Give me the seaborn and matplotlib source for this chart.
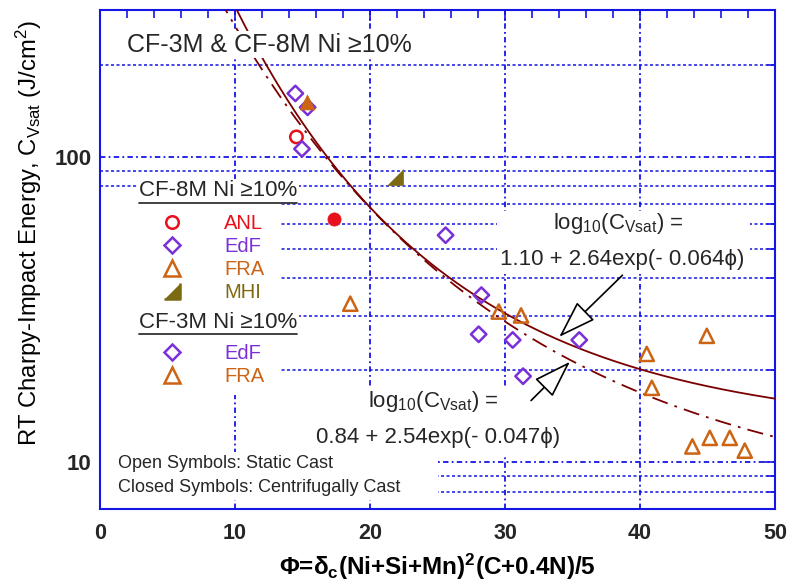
import numpy as np
import pandas as pd
import matplotlib
matplotlib.use("Agg")
import matplotlib.pyplot as plt
import seaborn as sns
from matplotlib.lines import Line2D
from matplotlib.patches import Rectangle
from matplotlib.ticker import FixedLocator, NullFormatter, MultipleLocator, FixedFormatter

sns.set_theme(style="white")
plt.rcParams["font.family"] = ["Liberation Sans", "DejaVu Sans"]
plt.rcParams["mathtext.fontset"] = "custom"
plt.rcParams["mathtext.rm"] = "Liberation Sans"
plt.rcParams["mathtext.it"] = "Liberation Sans:italic"
plt.rcParams["mathtext.bf"] = "Liberation Sans:bold"

# ---------------- data ----------------
anl_open_phi = [14.55]
anl_open_cv = [116]
anl_closed_phi = [17.33]
anl_closed_cv = [62.7]
edf8_phi = [14.47, 15.38, 14.96, 25.6]
edf8_cv = [161, 145, 106, 55.3]
edf3_phi = [28.25, 28.05, 30.57, 31.34, 35.5]
edf3_cv = [35.2, 26.2, 25.1, 19.1, 25.1]
fra8_open_phi = [18.54, 29.54, 31.19]
fra8_open_cv = [33.0, 31.1, 30.2]
fra8_closed_phi = [15.3]
fra8_closed_cv = [151]
fra3_phi = [40.5, 44.95, 40.88, 43.88, 45.17, 46.65, 47.76]
fra3_cv = [22.6, 25.9, 17.5, 11.25, 12.0, 12.0, 10.9]
mhi_phi = [21.87]
mhi_cv = [85.9]

# fitted curves: log10(Cvsat) = a + b*exp(-k*phi)
fit1_a, fit1_b, fit1_k = 1.10, 2.64, 0.064
fit2_a, fit2_b, fit2_k = 0.84, 2.54, 0.047

x_ticks = [0, 10, 20, 30, 40, 50]
y_major = [10, 100]
y_minor = [8, 9, 20, 30, 40, 50, 60, 70, 80, 90, 200]

RED = "#e8101a"
PURPLE = "#7a30d8"
ORANGE = "#cc6414"
OLIVE = "#7c6a12"
MAROON = "#7a0000"
BLUE = "#1515e6"

fig = plt.figure(figsize=(7.9, 5.83), dpi=100)
ax = fig.add_axes([100 / 790, 1 - 509 / 583, 675 / 790, 499 / 583])
ax.set_facecolor("white")

# curves
phi_grid = np.linspace(8, 50, 400)
c1 = 10 ** (fit1_a + fit1_b * np.exp(-fit1_k * phi_grid))
c2 = 10 ** (fit2_a + fit2_b * np.exp(-fit2_k * phi_grid))
sns.lineplot(x=phi_grid, y=c1, color=MAROON, lw=1.3, ax=ax, zorder=3)
sns.lineplot(x=phi_grid, y=c2, color=MAROON, lw=1.3, ax=ax, zorder=3,
             linestyle=(0, (9, 4, 1.5, 4)))

mhi_marker = [(-1, -1), (1, -1), (1, 1)]

def open_pts(x, y, marker, color, s):
    sns.scatterplot(x=x, y=y, marker=marker, s=s, facecolor="none",
                    edgecolor=color, linewidth=1.8, ax=ax, zorder=4)

def closed_pts(x, y, marker, color, s):
    sns.scatterplot(x=x, y=y, marker=marker, s=s, color=color,
                    edgecolor=color, linewidth=0.5, ax=ax, zorder=4)

open_pts(anl_open_phi, anl_open_cv, "o", RED, 80)
closed_pts(anl_closed_phi, anl_closed_cv, "o", RED, 90)
open_pts(edf8_phi, edf8_cv, "D", PURPLE, 62)
open_pts(edf3_phi, edf3_cv, "D", PURPLE, 62)
open_pts(fra8_open_phi, fra8_open_cv, "^", ORANGE, 105)
open_pts(fra3_phi, fra3_cv, "^", ORANGE, 105)
closed_pts(fra8_closed_phi, fra8_closed_cv, "^", ORANGE, 115)
closed_pts(mhi_phi, mhi_cv, mhi_marker, OLIVE, 130)

ax.set_yscale("log")
ax.set_xlim(0, 50)
ax.set_ylim(7.02, 302)

# ticks
ax.xaxis.set_major_locator(FixedLocator(x_ticks))
ax.xaxis.set_minor_locator(MultipleLocator(2))
ax.yaxis.set_major_locator(FixedLocator(y_major))
ax.yaxis.set_major_formatter(FixedFormatter([str(v) for v in y_major]))
ax.yaxis.set_minor_locator(FixedLocator(y_minor))
ax.yaxis.set_minor_formatter(NullFormatter())
ax.tick_params(axis="both", which="both", direction="in", color=BLUE,
               top=True, right=True, width=1.2)
ax.tick_params(axis="both", which="major", length=8)
ax.tick_params(axis="both", which="minor", length=6)
ax.tick_params(axis="x", which="major", labelsize=15.5, pad=10)
ax.tick_params(axis="y", which="major", labelsize=16, pad=6)
for lab in ax.get_xticklabels() + ax.get_yticklabels():
    lab.set_fontweight("bold")
for sp in ax.spines.values():
    sp.set_color(BLUE)
    sp.set_linewidth(1.5)

ax.set_axisbelow(True)
ax.grid(True, which="major", axis="both", color=BLUE, lw=1.3, linestyle=(0, (3, 1.8, 1, 1.8)))
ax.grid(True, which="minor", axis="y", color=BLUE, lw=1.1, linestyle=(0, (2, 1.6)))

# white blanking boxes behind texts / legend
def blank(x0, y0, x1, y1):
    # pixel coordinates of the figure (y from top)
    ax.add_patch(Rectangle(((x0 - 100) / 675, (509 - y1) / 499),
                           (x1 - x0) / 675, (y1 - y0) / 499,
                           transform=ax.transAxes, fc="white", ec="none",
                           zorder=1))

blank(100, 198, 280, 395)     # legend block
blank(100, 452, 438, 500)     # open/closed symbols note
blank(497, 211, 750, 274)     # equation 1
blank(316, 387, 568, 455)     # equation 2

# title
ax.text(0.04, 0.93, "CF-3M & CF-8M Ni ≥10%", transform=ax.transAxes,
        fontsize=18, ha="left", va="center", zorder=5,
        bbox=dict(fc="white", ec="none", pad=1))

# legend headers
h1 = ax.text((139 - 100) / 675, (509 - 191) / 499, "CF-8M Ni ≥10%",
             transform=ax.transAxes, fontsize=16, ha="left", va="center",
             zorder=5, bbox=dict(fc="white", ec="none", pad=1))
h2 = ax.text((139 - 100) / 675, (509 - 322.5) / 499, "CF-3M Ni ≥10%",
             transform=ax.transAxes, fontsize=16, ha="left", va="center",
             zorder=5, bbox=dict(fc="white", ec="none", pad=1))

def lh(marker, color, filled=False, ms=8):
    return Line2D([], [], ls="none", marker=marker, ms=ms,
                  mfc=color if filled else "none", mec=color, mew=1.8)

leg1_handles = [lh("o", RED, ms=9), lh("D", PURPLE, ms=8.5), lh("^", ORANGE, ms=11),
                lh(mhi_marker, OLIVE, True, ms=12)]
leg1_labels = ["ANL", "EdF", "FRA", "MHI"]
leg1_colors = [RED, PURPLE, ORANGE, OLIVE]
leg2_handles = [lh("D", PURPLE, ms=8.5), lh("^", ORANGE, ms=11)]
leg2_labels = ["EdF", "FRA"]
leg2_colors = [PURPLE, ORANGE]

leg_kw = dict(loc="upper left", frameon=False, fontsize=14.5, handlelength=2,
              handletextpad=1.62, borderpad=0, borderaxespad=0,
              labelspacing=0.2, bbox_transform=ax.transAxes)
leg1 = ax.legend(leg1_handles, leg1_labels,
                 bbox_to_anchor=((151.5 - 100) / 675, (509 - 214) / 499), **leg_kw)
for t, c in zip(leg1.get_texts(), leg1_colors):
    t.set_color(c)
leg1.set_zorder(6)
ax.add_artist(leg1)
leg2 = ax.legend(leg2_handles, leg2_labels,
                 bbox_to_anchor=((151.5 - 100) / 675, (509 - 344) / 499), **leg_kw)
for t, c in zip(leg2.get_texts(), leg2_colors):
    t.set_color(c)
leg2.set_zorder(6)

# equations
eq_kw = dict(transform=ax.transAxes, fontsize=16, ha="left", va="center", zorder=5)
ax.text((553 - 100) / 675, (509 - 223) / 499,
        r"log$_\mathregular{10}$(C$_\mathregular{Vsat}$) =", **eq_kw)
ax.text((500 - 100) / 675, (509 - 259) / 499,
        "1.10 + 2.64exp(- 0.064ϕ)", **eq_kw)
ax.text((368 - 100) / 675, (509 - 401.7) / 499,
        r"log$_\mathregular{10}$(C$_\mathregular{Vsat}$) =", **eq_kw)
ax.text((316 - 100) / 675, (509 - 437) / 499,
        "0.84 + 2.54exp(- 0.047ϕ)", **eq_kw)

# notes
ax.text((117.7 - 100) / 675, (509 - 463) / 499, "Open Symbols: Static Cast",
        transform=ax.transAxes, fontsize=13, ha="left", va="center", zorder=5)
ax.text((117.7 - 100) / 675, (509 - 487) / 499, "Closed Symbols: Centrifugally Cast",
        transform=ax.transAxes, fontsize=13, ha="left", va="center", zorder=5)

# arrows
arrow_kw = dict(arrowstyle="-|>,head_length=1.5,head_width=0.5", fc="white",
                ec="black", lw=1.2, mutation_scale=16, shrinkA=0, shrinkB=0)
ax.annotate("", xy=(34.02, 25.7), xytext=(38.7, 40.9), arrowprops=arrow_kw, zorder=7)
ax.annotate("", xy=(34.81, 21.3), xytext=(31.93, 15.9), arrowprops=arrow_kw, zorder=7)

# axis labels
ax.set_xlabel(r"Φ=δ$_\mathbf{c}$(Ni+Si+Mn)$^\mathbf{2}$(C+0.4N)/5",
              fontsize=17.5, fontweight="bold", color="black")
ax.xaxis.set_label_coords(0.5, -(552 - 509) / 499)
ax.set_ylabel(r"RT Charpy-Impact Energy, C$_\mathregular{Vsat}$ (J/cm$^\mathregular{2}$)",
              fontsize=17.2, color="black")
ax.yaxis.set_label_coords(-(100 - 44) / 675, (509 - 233.5) / 499)

# underline legend headers
fig.canvas.draw()
r = fig.canvas.get_renderer()
for h in (h1, h2):
    bb = h.get_window_extent(renderer=r)
    y = bb.y0 - 1
    fig.add_artist(Line2D([bb.x0 / 790, bb.x1 / 790], [y / 583, y / 583],
                          transform=fig.transFigure, color="#333333", lw=1.3))

fig.savefig("out.png", dpi=100)
